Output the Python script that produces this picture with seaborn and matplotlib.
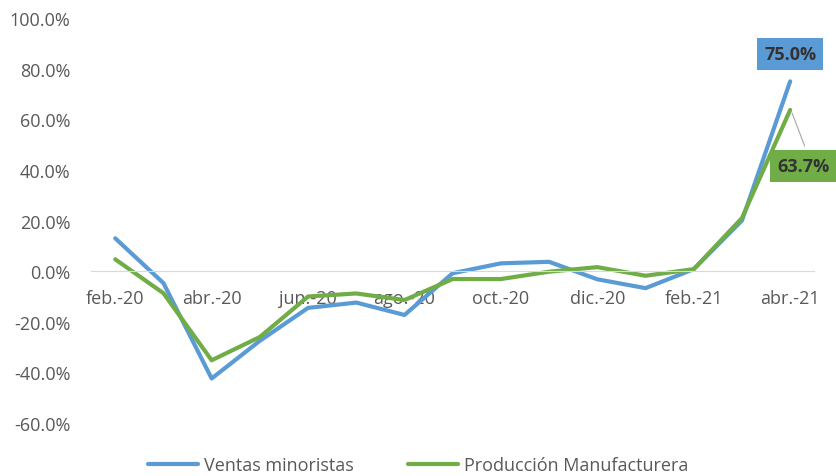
import pandas as pd
import matplotlib.pyplot as plt
import seaborn as sns
from matplotlib.ticker import FuncFormatter, FixedLocator

meses = ['feb.-20', 'mar.-20', 'abr.-20', 'may.-20', 'jun.-20', 'jul.-20', 'ago.-20',
         'sep.-20', 'oct.-20', 'nov.-20', 'dic.-20', 'ene.-21', 'feb.-21', 'mar.-21', 'abr.-21']
ventas = [13.0, -4.7, -42.4, -27.5, -14.5, -12.4, -17.3, -0.8, 3.1, 3.7, -3.2, -6.7, 0.8, 20.0, 75.0]
produccion = [4.7, -8.7, -35.2, -26.0, -10.0, -8.8, -11.4, -3.1, -3.1, -0.2, 1.6, -1.8, 0.8, 21.0, 63.7]

azul = '#5B9BD5'
verde = '#70AD47'
gris = '#595959'

df = pd.DataFrame({
    'x': list(range(len(meses))) * 2,
    'valor': ventas + produccion,
    'serie': ['Ventas minoristas'] * len(meses) + ['Producción Manufacturera'] * len(meses),
})

sns.set_style('white')
plt.rcParams['font.family'] = ['Open Sans', 'DejaVu Sans']

fig = plt.figure(figsize=(8.36, 4.77), dpi=100)
ax = fig.add_axes([0.109, 0.111, 0.865, 0.849])

sns.lineplot(data=df, x='x', y='valor', hue='serie', palette=[azul, verde],
             linewidth=3, ax=ax, legend=False)

ax.set_xlim(-0.5, 14.5)
ax.set_ylim(-60, 100)
ax.set_yticks(range(-60, 101, 20))
ax.yaxis.set_major_formatter(FuncFormatter(lambda v, p: f'{v:.1f}%'))
ax.tick_params(axis='y', length=0, labelsize=13, labelcolor=gris, pad=15)

# eje x en el cero
for lado in ['left', 'right', 'top']:
    ax.spines[lado].set_visible(False)
ax.spines['bottom'].set_position(('data', 0))
ax.spines['bottom'].set_color('#D9D9D9')
ax.xaxis.set_major_locator(FixedLocator([i - 0.5 for i in range(0, 15, 2)]))
ax.xaxis.set_major_formatter(FuncFormatter(lambda v, p: ''))
ax.xaxis.set_minor_locator(FixedLocator(list(range(0, 15, 2))))
ax.set_xticklabels([meses[i] for i in range(0, 15, 2)], minor=True)
ax.tick_params(axis='x', which='major', length=5, color='#D9D9D9', direction='out')
ax.tick_params(axis='x', which='minor', length=0, labelsize=13, labelcolor=gris, pad=13)
ax.set_xlabel('')
ax.set_ylabel('')

# etiquetas de datos
ax.text(14, 85.9, f'{ventas[-1]:.1f}%', ha='center', va='center', fontsize=13,
        fontweight='bold', color='#333333',
        bbox=dict(boxstyle='square,pad=0.4', fc=azul, ec='none'))
ax.plot([14.04, 14.3], [62.5, 49.5], color='#A6A6A6', linewidth=0.8)
ax.text(14.27, 41.6, f'{produccion[-1]:.1f}%', ha='center', va='center', fontsize=13,
        fontweight='bold', color='#333333',
        bbox=dict(boxstyle='square,pad=0.4', fc=verde, ec='none'))

# leyenda
h1, = ax.plot([], [], color=azul, linewidth=3)
h2, = ax.plot([], [], color=verde, linewidth=3)
fig.legend([h1, h2], ['Ventas minoristas', 'Producción Manufacturera'], loc='lower center',
           bbox_to_anchor=(0.5, -0.03), ncol=2, frameon=False, fontsize=13,
           labelcolor=gris, handlelength=2.8, columnspacing=3.0, handletextpad=0.3)

fig.savefig('out.png', dpi=100)
